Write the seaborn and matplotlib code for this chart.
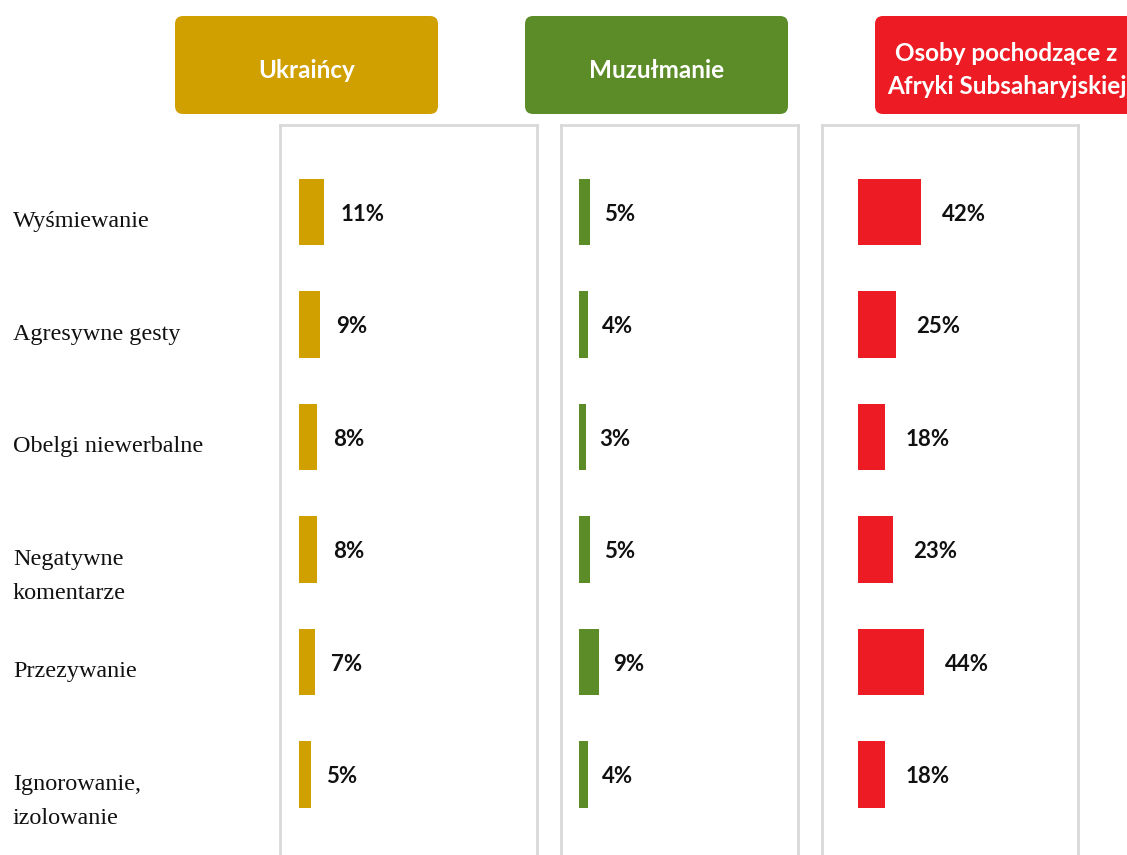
import matplotlib.pyplot as plt
import matplotlib.transforms as mtransforms
from matplotlib.patches import FancyBboxPatch
import seaborn as sns
import pandas as pd

# dane
kategorie = ['Wyśmiewanie', 'Agresywne gesty', 'Obelgi niewerbalne',
             'Negatywne\nkomentarze', 'Przezywanie', 'Ignorowanie,\nizolowanie']
grupy = ['Ukraińcy', 'Muzułmanie', 'Osoby pochodzące z\nAfryki Subsaharyjskiej']
ukraincy = [11, 9, 8, 8, 7, 5]
muzulmanie = [5, 4, 3, 5, 9, 4]
afryka = [42, 25, 18, 23, 44, 18]
kolory = ['#D0A000', '#5B8C28', '#ED1C24']

W, H, DPI = 1127, 855, 100
# (lewa krawedz, prawa krawedz, poczatek slupka, px na 1%, odstep etykiety) w pikselach
PANELE = [(280, 537, 299, 2.3, 16), (561, 798, 579, 2.2, 14), (822, 1078, 858, 1.5, 21)]
NAGLOWKI = [(175, 438), (525, 788), (875, 1138)]
GORA_PANELU = 125
PIERWSZY_SRODEK = 212
ODSTEP = 112.5
SZARY = '#D9D9D9'
SANS = ['Lato', 'DejaVu Sans']
SERIF = ['Liberation Serif', 'DejaVu Serif']

sns.set_theme(style='white')
plt.rcParams['font.family'] = SANS

fig = plt.figure(figsize=(W / DPI, H / DPI), dpi=DPI)
fig.patch.set_facecolor('white')

serie = [ukraincy, muzulmanie, afryka]
osie = []
for (lewa, prawa, start, skala, odstep), wartosci, kolor in zip(PANELE, serie, kolory):
    ax = fig.add_axes([lewa / W, 0, (prawa - lewa) / W, (H - GORA_PANELU) / H])
    df = pd.DataFrame({'kategoria': kategorie, 'wartosc': wartosci})
    sns.barplot(data=df, x='wartosc', y='kategoria', color=kolor, saturation=1,
                width=0.587, orient='h', linewidth=0, ax=ax)
    ax.set_xlim((lewa - start) / skala, (prawa - start) / skala)
    ax.set_ylim((H - PIERWSZY_SRODEK) / ODSTEP, (GORA_PANELU - PIERWSZY_SRODEK) / ODSTEP)
    ax.set_xticks([])
    ax.set_yticks([])
    ax.set_xlabel('')
    ax.set_ylabel('')
    for side in ['left', 'right', 'top']:
        ax.spines[side].set_color(SZARY)
        ax.spines[side].set_linewidth(2)
    ax.spines['bottom'].set_visible(False)
    for i, v in enumerate(wartosci):
        ax.annotate(f'{v}%', xy=(v, i), xytext=(odstep * 72 / DPI, -2 * 72 / DPI),
                    textcoords='offset points', ha='left', va='center',
                    fontsize=16, fontweight='bold', color='#111111', family=SANS)
    osie.append(ax)

# etykiety kategorii - kazda linia osobno, pierwsza linia na wysokosci slupka
ax1 = osie[0]
baza = mtransforms.blended_transform_factory(fig.transFigure, ax1.transData)
for i, kat in enumerate(kategorie):
    for k, linia in enumerate(kat.split('\n')):
        przes = mtransforms.ScaledTranslation(0, -(15 + 34 * k) / DPI, fig.dpi_scale_trans)
        fig.text(13 / W, i, linia, transform=baza + przes, ha='left', va='baseline',
                 fontsize=17.4, family=SERIF, color='#111111')

# naglowki
for (x0, x1), nazwa, kolor in zip(NAGLOWKI, grupy, kolory):
    y0, y1 = 16, 114
    box = FancyBboxPatch((x0 / DPI, (H - y1) / DPI), (x1 - x0) / DPI, (y1 - y0) / DPI,
                         boxstyle='round,pad=0,rounding_size=0.08',
                         transform=fig.dpi_scale_trans, facecolor=kolor,
                         edgecolor='none')
    fig.add_artist(box)
    fig.text((x0 + x1) / 2 / W, 1 - 70 / H, nazwa, ha='center',
             va='center', color='white', fontsize=17.5, fontweight='bold',
             family=SANS, linespacing=1.55)

fig.savefig('out.png', dpi=DPI)
